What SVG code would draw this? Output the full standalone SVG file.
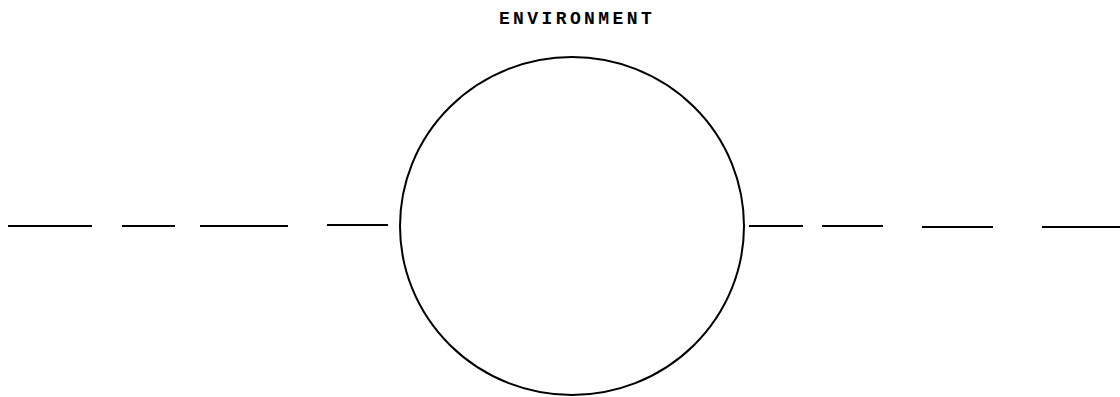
<svg xmlns="http://www.w3.org/2000/svg" width="1120" height="397" viewBox="0 0 1120 397">
<style>
.ln{stroke:#000;stroke-width:2;fill:none}
.lbl{font-family:"Liberation Mono","Courier New",monospace;font-size:18px;font-weight:bold;letter-spacing:3.4px;fill:#000}
</style>
<rect width="1120" height="397" fill="#fff"/>
<g id="environment-label"><text class="lbl" x="577" y="24" text-anchor="middle">ENVIRONMENT</text></g>
<g id="system"><ellipse class="ln" cx="572" cy="226" rx="172" ry="169"/></g>
<g id="connectors">
<line class="ln" x1="8" y1="226" x2="92" y2="226"/>
<line class="ln" x1="122" y1="226" x2="175" y2="226"/>
<line class="ln" x1="200" y1="226" x2="288" y2="226"/>
<line class="ln" x1="327" y1="225" x2="388" y2="225"/>
<line class="ln" x1="749" y1="226" x2="803" y2="226"/>
<line class="ln" x1="822" y1="226" x2="883" y2="226"/>
<line class="ln" x1="922" y1="227" x2="993" y2="227"/>
<line class="ln" x1="1042" y1="227" x2="1120" y2="227"/>
</g>
</svg>
